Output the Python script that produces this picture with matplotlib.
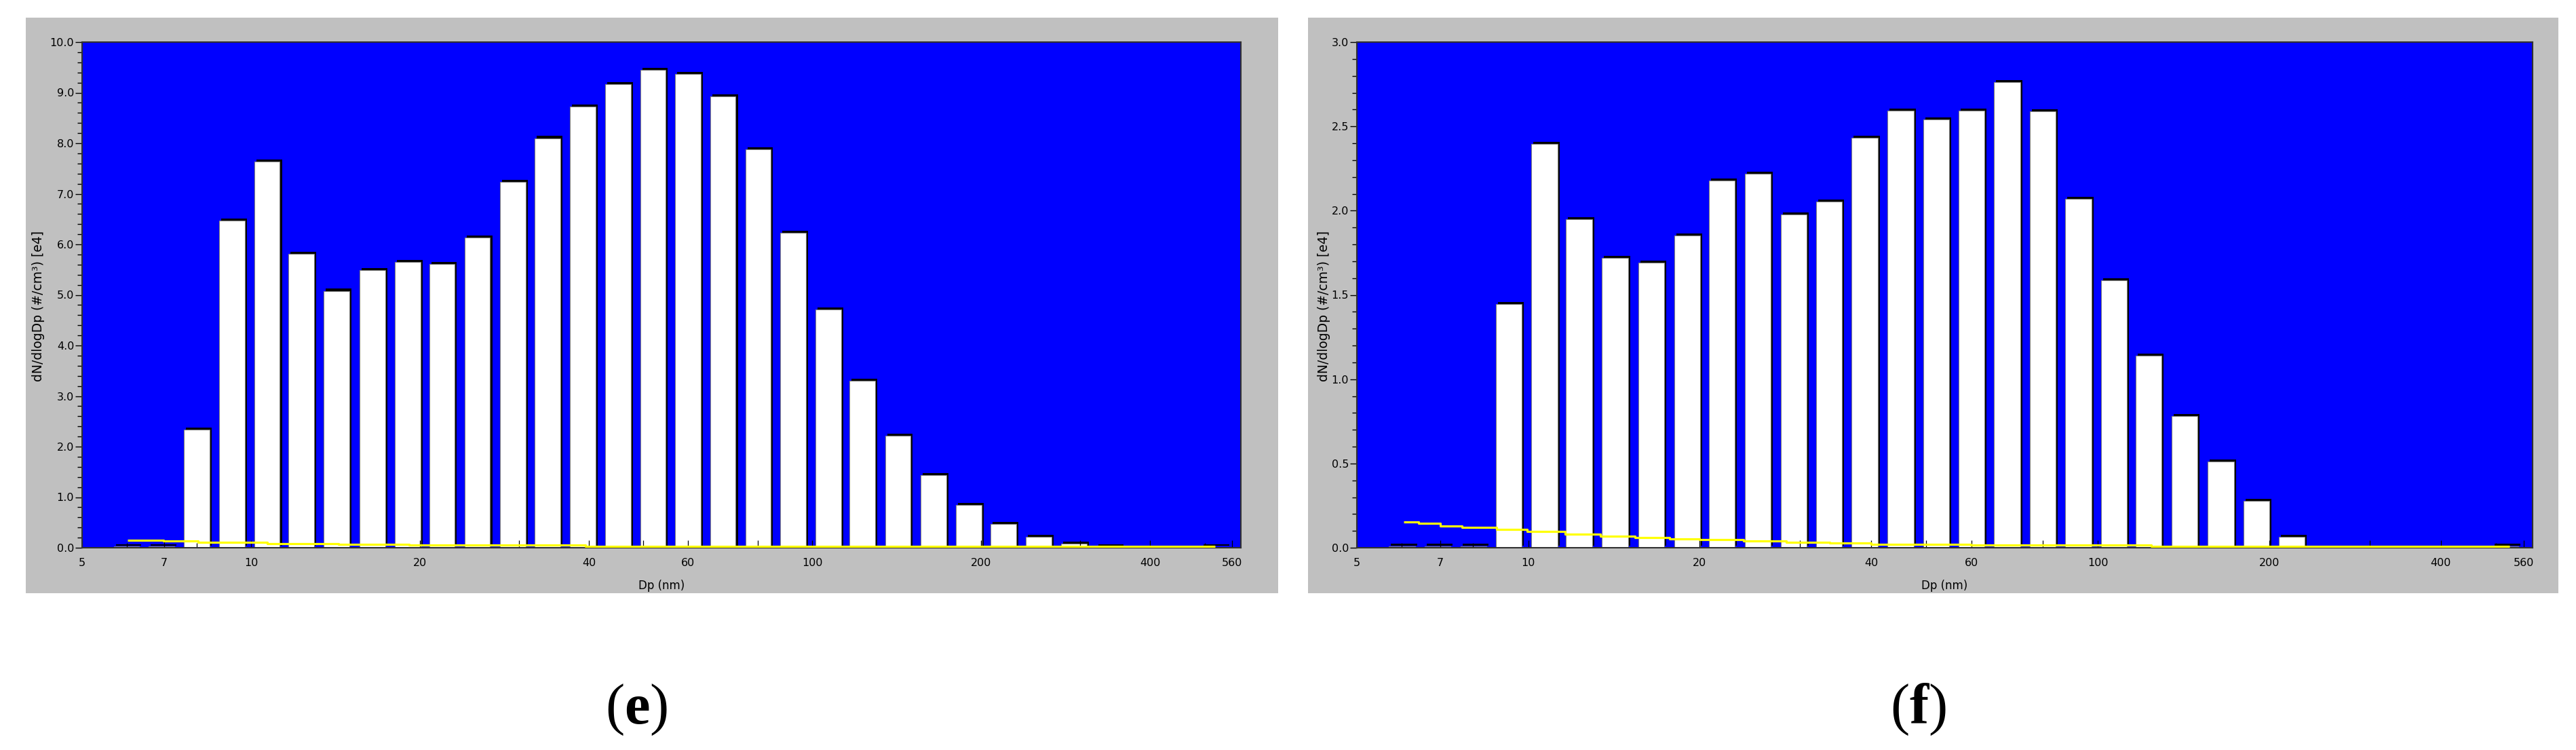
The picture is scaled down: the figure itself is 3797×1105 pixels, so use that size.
import numpy as np
import matplotlib
matplotlib.use('Agg')
import matplotlib.pyplot as plt
import matplotlib.patheffects as pe
from matplotlib.patches import Rectangle
from matplotlib.ticker import MultipleLocator, NullFormatter

plt.rcParams['font.family'] = ['DejaVu Sans']
plt.rcParams['mathtext.fontset'] = 'custom'
plt.rcParams['mathtext.rm'] = 'Liberation Serif'
plt.rcParams['mathtext.bf'] = 'Liberation Serif:bold'

# channel lower edges (nm), 16 channels per decade
dp_bins = [5.62, 6.49, 7.50, 8.66, 10.0, 11.5, 13.3, 15.4, 17.8, 20.5, 23.7, 27.4,
           31.6, 36.5, 42.2, 48.7, 56.2, 64.9, 75.0, 86.6, 100, 115, 133, 154,
           178, 205, 237, 274, 316, 365, 422, 487]

# dN/dlogDp [e4]
vals_e = [0.03, 0.03, 2.33, 6.47, 7.64, 5.81, 5.08, 5.49, 5.65, 5.61, 6.13, 7.24,
          8.10, 8.73, 9.17, 9.45, 9.37, 8.93, 7.88, 6.23, 4.71, 3.30, 2.21, 1.44,
          0.85, 0.47, 0.21, 0.085, 0.03, 0.0, 0.0, 0.02]
vals_f = [0.01, 0.01, 0.01, 1.445, 2.395, 1.948, 1.72, 1.693, 1.852, 2.179, 2.219, 1.978,
          2.052, 2.432, 2.593, 2.539, 2.593, 2.763, 2.588, 2.069, 1.586, 1.14, 0.78, 0.512,
          0.276, 0.063, 0.0, 0.0, 0.0, 0.0, 0.0, 0.01]

# yellow curve
yel_e_x = [6.03, 6.98, 8.05, 10.7, 14.3, 19.1, 39.4, 522]
yel_e_y = [0.148, 0.13, 0.11, 0.085, 0.066, 0.048, 0.03, 0.03]
yel_f_x = [6.04, 6.42, 7.01, 7.65, 8.80, 9.95, 11.6, 13.4, 15.4, 17.7, 20.0, 23.9,
           28.4, 33.8, 40.0, 59.8, 124, 528]
yel_f_y = [0.154, 0.143, 0.130, 0.121, 0.107, 0.097, 0.080, 0.070, 0.059, 0.052, 0.047,
           0.039, 0.032, 0.027, 0.020, 0.015, 0.008, 0.008]

xticks = [5, 7, 10, 20, 30, 40, 50, 60, 80, 100, 200, 300, 400, 560]
xlabels = ['5', '7', '10', '20', '', '40', '', '60', '', '100', '200', '', '400', '560']
xminor = [6, 8, 500]

W, H = 3797, 1105
fig = plt.figure(figsize=(W / 100, H / 100), dpi=100)


def box(x0, y0, x1, y1):
    return [x0 / W, 1 - y1 / H, (x1 - x0) / W, (y1 - y0) / H]


def panel(gray, area, vals, yx, yy, ymax, step, mstep, ylab_x):
    g = box(*gray)
    fig.add_artist(Rectangle((g[0], g[1]), g[2], g[3], transform=fig.transFigure,
                             fc='#c0c0c0', ec='none', zorder=-1))
    ax = fig.add_axes(box(*area))
    ax.set_facecolor('#0000ff')
    ax.set_xscale('log')
    r = 10 ** (1 / 16)
    lefts = [b * r ** 0.09 for b in dp_bins]
    widths = [b * r ** 0.82 - b * r ** 0.09 for b in dp_bins]
    ax.bar(lefts, vals, width=widths, align='edge', color='white',
           edgecolor='#808080', linewidth=0.8, zorder=1,
           path_effects=[pe.SimplePatchShadow(offset=(2.2, 2.2), shadow_rgbFace='black',
                                              alpha=1.0), pe.Normal()])
    ax.plot(yx, yy, color='#ffff00', lw=2.3, drawstyle='steps-post',
            solid_capstyle='butt', zorder=3)
    ax.set_xlim(5, 580)
    ax.set_ylim(0, ymax)

    ax.set_xticks(xticks)
    ax.set_xticklabels(xlabels)
    ax.set_xticks(xminor, minor=True)
    ax.xaxis.set_minor_formatter(NullFormatter())
    ax.tick_params(axis='x', which='major', direction='in', length=8, width=0.9,
                   color='black', pad=11, labelsize=11.5)
    ax.tick_params(axis='x', which='minor', direction='in', length=5, width=0.9,
                   color='black')

    yt = np.arange(0, ymax + step / 2, step)
    ax.set_yticks(yt)
    ax.set_yticklabels([f'{v:.1f}' for v in yt])
    ax.yaxis.set_minor_locator(MultipleLocator(mstep))
    ax.tick_params(axis='y', which='major', direction='out', length=7, width=1.0,
                   color='black', pad=1.5, labelsize=11.5)
    ax.tick_params(axis='y', which='minor', direction='out', length=5, width=1.0,
                   color='black')

    for s in ax.spines.values():
        s.set_color('#303030')
        s.set_linewidth(1.5)

    ax.set_xlabel('Dp (nm)', fontsize=12)
    ax.xaxis.label.set_va('center')
    ax.xaxis.set_label_coords(0.5, -0.075)
    ax.set_ylabel('dN/dlogDp (#/cm³) [e4]', fontsize=13.5)
    ax.yaxis.label.set_va('center')
    ax.yaxis.set_label_coords(ylab_x, 0.478)
    return ax


panel((38, 26, 1884, 874), (121, 62, 1829, 807), vals_e, yel_e_x, yel_e_y,
      10.0, 1.0, 0.2, -0.038)
panel((1928, 26, 3771, 874), (2000, 62, 3733, 807), vals_f, yel_f_x, yel_f_y,
      3.0, 0.5, 0.1, -0.028)

fig.text(938 / W, 1 - 1045 / H, r'$(\mathbf{e})$', fontsize=61, ha='center', va='center')
fig.text(2827 / W, 1 - 1045 / H, r'$(\mathbf{f})$', fontsize=61, ha='center', va='center')

fig.savefig('out.png', dpi=100, facecolor='white')
